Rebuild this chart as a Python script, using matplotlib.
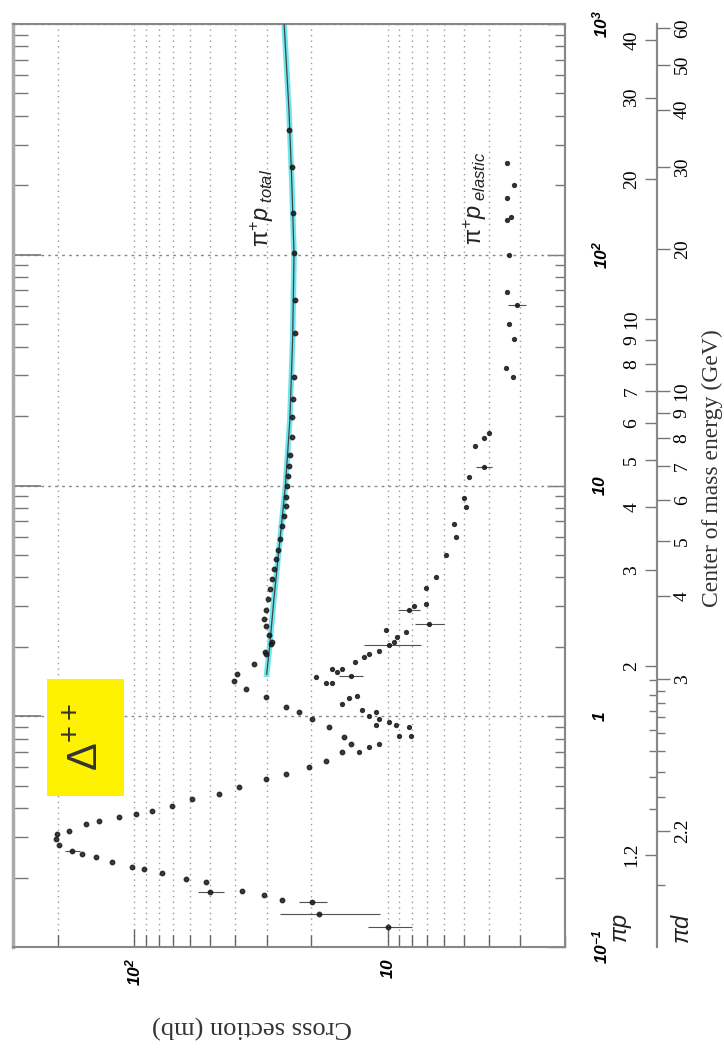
import numpy as np
import matplotlib.pyplot as plt
from matplotlib.ticker import FixedLocator, NullFormatter
from matplotlib.patches import Rectangle

plt.rcParams['mathtext.fontset'] = 'custom'
plt.rcParams['mathtext.rm'] = 'Liberation Sans'
plt.rcParams['mathtext.it'] = 'Liberation Sans:italic'
plt.rcParams['mathtext.bf'] = 'Liberation Sans:italic:bold'
plt.rcParams['mathtext.sf'] = 'Liberation Sans'

# pi+ p total cross section: lab momentum (GeV/c), sigma (mb), sigma error (mb)
tot_p = [0.122, 0.139, 0.157, 0.160, 0.168, 0.173, 0.175, 0.191, 0.197, 0.209,
         0.218, 0.222, 0.233, 0.245, 0.253, 0.261, 0.277, 0.294, 0.308, 0.318,
         0.340, 0.351, 0.365, 0.377, 0.388, 0.407, 0.437, 0.459, 0.493, 0.533,
         0.561, 0.601, 0.638, 0.698, 0.757, 0.811, 0.895, 0.970, 1.04, 1.10,
         1.21, 1.31, 1.42, 1.53, 1.69, 1.87, 1.89, 2.05, 2.09, 2.26,
         2.45, 2.63, 2.90, 3.21, 3.55, 3.92, 4.33, 4.78, 5.28, 5.84,
         6.65, 7.34, 8.11, 8.96, 10.0, 11.0, 12.1, 13.6, 16.3, 19.9,
         23.6, 29.6, 45.9, 63.8, 102, 152, 240, 348]
tot_sig = [10.0, 18.7, 19.9, 26.1, 30.8, 50.2, 37.6, 52.1, 62.4, 77.6,
           91.3, 102, 122, 141, 160, 175, 197, 203, 201, 180,
           155, 137, 115, 98, 85, 70.8, 59.1, 46.3, 38.6, 30.2,
           25.2, 20.5, 17.5, 15.2, 14.0, 14.9, 17.1, 19.9, 22.4, 25.2,
           30.2, 36.2, 40.4, 39.3, 33.7, 30.2, 30.5, 28.9, 28.6, 29.4,
           30.2, 30.8, 30.2, 29.7, 29.2, 28.6, 28.1, 27.6, 27.1, 26.6,
           26.1, 25.6, 25.2, 25.2, 25.0, 24.8, 24.5, 24.3, 23.9, 23.9,
           23.7, 23.4, 23.2, 23.2, 23.4, 23.7, 23.9, 24.5]
tot_err = [2.0, 8.0, 2.5, 0, 0, 6.0, 0, 0, 0, 0,
           0, 0, 0, 0, 0, 12, 0, 0, 0, 0,
           0, 0, 0, 0, 0, 0, 0, 0, 0, 0,
           0, 0, 0, 0, 0, 0, 0, 0, 0, 0,
           0, 0, 0, 0, 0, 0, 0, 0, 0, 0,
           0, 0, 0, 0, 0, 0, 0, 0, 0, 0,
           0, 0, 0, 0, 0, 0, 0, 0, 0, 0,
           0, 0, 0, 0, 0, 0, 0, 0]

# pi+ p elastic cross section
el_p = [0.698, 0.734, 0.757, 0.819, 0.819, 0.896, 0.914, 0.914, 0.94, 0.97,
        1.00, 1.04, 1.06, 1.13, 1.20, 1.22, 1.39, 1.40, 1.48, 1.50,
        1.55, 1.60, 1.60, 1.71, 1.80, 1.87, 1.91, 2.03, 2.09, 2.20,
        2.31, 2.36, 2.50, 2.90, 2.99, 3.05, 3.61, 4.00, 5.02, 6.01,
        6.84, 8.03, 8.87, 10.9, 12.0, 14.8, 16.1, 16.9, 29.4, 32.4,
        43.3, 50.2, 60.8, 69.2, 100, 142, 146, 177, 201, 250]
el_sig = [13.0, 11.9, 10.8, 9.05, 8.12, 8.27, 11.1, 9.30, 9.91, 10.8,
          11.9, 11.1, 12.6, 15.2, 14.2, 13.2, 17.5, 16.6, 19.2, 14.0,
          15.9, 16.6, 15.2, 13.4, 12.4, 11.9, 10.8, 9.91, 9.47, 9.22,
          8.49, 10.2, 6.90, 8.27, 7.90, 7.08, 7.08, 6.47, 5.91, 5.40,
          5.50, 4.93, 5.02, 4.80, 4.19, 4.51, 4.19, 4.00, 3.22, 3.43,
          3.19, 3.31, 3.10, 3.40, 3.34, 3.40, 3.28, 3.40, 3.19, 3.40]
el_err = [0, 0, 0, 0, 0, 0, 0, 0, 0, 0,
          0, 0, 0, 0, 0, 0, 0, 0, 0, 1.5,
          0, 0, 0, 0, 0, 0, 0, 2.5, 0, 0,
          0, 0, 0.9, 0.8, 0, 0, 0, 0, 0, 0,
          0, 0, 0, 0, 0.3, 0, 0, 0, 0, 0,
          0, 0, 0.25, 0, 0, 0, 0, 0, 0, 0]

# fit to total cross section
fit_p = [1.52, 2.0, 3.21, 7.13, 10, 19.3, 42.9, 100, 211, 424, 1000]
fit_sig = [30.0, 29.2, 28.1, 26.1, 25.3, 24.3, 23.7, 23.4, 23.9, 24.5, 25.6]

# axis ticks
p_major = [0.1, 1, 10, 100, 1000]
p_labels = [r'$\mathbf{10^{-1}}$', r'$\mathbf{1}$', r'$\mathbf{10}$',
            r'$\mathbf{10^{2}}$', r'$\mathbf{10^{3}}$']
sig_major = [10, 100]
sig_labels = [r'$\mathbf{10}$', r'$\mathbf{10^{2}}$']
sig_minor = [2, 3, 4, 5, 6, 7, 8, 9, 20, 30, 40, 50, 60, 70, 80, 90, 200]

# centre of mass energy scales
w_pip = [1.2, 2, 3, 4, 5, 6, 7, 8, 9, 10, 20, 30, 40]
w_pip_labels = ['1.2', '2', '3', '4', '5', '6', '7', '8', '9', '10', '20', '30', '40']
w_pip_minor = [1.3, 1.4, 1.5, 1.6, 1.7, 1.8, 1.9]
w_pid = [2.2, 3, 4, 5, 6, 7, 8, 9, 10, 20, 30, 40, 50, 60]
w_pid_labels = ['2.2', '3', '4', '5', '6', '7', '8', '9', '10', '20', '30', '40', '50', '60']
w_pid_minor = [2.1, 2.3, 2.4, 2.5, 2.6, 2.7, 2.8, 2.9]

M_PI, M_P, M_D = 0.1396, 0.9383, 1.8756


def sqrt_s(p, m):
    p = np.asarray(p, dtype=float)
    e = np.sqrt(p**2 + M_PI**2)
    return np.sqrt(M_PI**2 + m**2 + 2 * m * e)


def plab(w, m):
    w = np.maximum(np.asarray(w, dtype=float), M_PI + m + 1e-6)
    e = (w**2 - M_PI**2 - m**2) / (2 * m)
    return np.sqrt(np.maximum(e**2 - M_PI**2, 1e-12))


W, H = 724, 1060
fig = plt.figure(figsize=(7.24, 10.6), dpi=100)
ax = fig.add_axes([13 / W, 1 - 947 / H, 552 / W, 923 / H])
ax.set_xscale('log')
ax.set_yscale('log')
ax.set_xlim(300, 2)
ax.set_ylim(0.1, 1000)

# data
ax.plot(fit_sig, fit_p, color='#6ee6ee', lw=4, zorder=2)
ax.plot(fit_sig, fit_p, color='#444444', lw=0.9, zorder=3)
ax.errorbar(tot_sig, tot_p, xerr=tot_err, fmt='o', ms=3.2, color='#1a1a1a',
            ecolor='#333333', elinewidth=0.8, alpha=0.85, zorder=4)
ax.errorbar(el_sig, el_p, xerr=el_err, fmt='o', ms=2.8, color='#1a1a1a',
            ecolor='#333333', elinewidth=0.8, alpha=0.85, zorder=4)

# ticks and grid
ax.set_xticks(sig_major)
ax.set_xticklabels(sig_labels, rotation=90)
ax.xaxis.set_minor_locator(FixedLocator(sig_minor))
ax.xaxis.set_minor_formatter(NullFormatter())
ax.tick_params(axis='x', which='major', direction='in', length=13, width=1,
               color='#666666', labelsize=12.5, pad=8, top=False)
ax.tick_params(axis='x', which='minor', direction='in', length=8.5, width=1,
               color='#666666', top=False)
ax.set_yticks(p_major)
ax.yaxis.set_minor_locator(FixedLocator(
    [k * 10.0**e for e in range(-1, 3) for k in range(2, 10)]))
ax.yaxis.set_minor_formatter(NullFormatter())
ax.tick_params(axis='y', which='major', direction='in', length=20, width=1.2,
               color='#777777', labelleft=False, right=False)
ax.tick_params(axis='y', which='minor', direction='in', length=11, width=1,
               color='#777777', right=False)
ax.grid(True, which='both', axis='x', ls=(0, (1, 3)), color='#999999', lw=1)
ax.grid(True, which='major', axis='y', ls=(0, (2, 3)), color='#888888', lw=1)
for s in ax.spines.values():
    s.set_color('#888888')
    s.set_linewidth(1.5)
ax.spines['left'].set_linewidth(2.5)
ax.spines['left'].set_color('#aaaaaa')

# right side momentum labels
secr = ax.secondary_yaxis('right')
secr.set_yticks(p_major, labels=p_labels)
secr.yaxis.set_minor_locator(FixedLocator(
    [k * 10.0**e for e in range(-1, 3) for k in range(2, 10)]))
secr.yaxis.set_minor_formatter(NullFormatter())
secr.tick_params(axis='y', which='major', direction='in', length=13, width=1,
                 color='#777777', pad=19, labelsize=12.5)
secr.tick_params(axis='y', which='minor', direction='in', length=7, width=1,
                 color='#777777')
secr.spines['right'].set_color('#888888')
secr.spines['right'].set_linewidth(1.5)
for lbl in secr.get_yticklabels():
    lbl.set_rotation(90)
    lbl.set_va('center')

# centre of mass energy scales
loc = (657 - 13) / 552
seca = ax.secondary_yaxis(loc, functions=(lambda p: sqrt_s(p, M_P),
                                          lambda w: plab(w, M_P)))
seca.set_alignment('left')
seca.set_yticks(w_pip, labels=w_pip_labels)
seca.yaxis.set_minor_locator(FixedLocator(w_pip_minor))
seca.yaxis.set_minor_formatter(NullFormatter())
seca.tick_params(axis='y', which='major', direction='out', length=9, width=1,
                 color='#777777', pad=3, labelsize=14)
seca.tick_params(axis='y', which='minor', direction='out', length=6, width=1,
                 color='#777777')
seca.spines['left'].set_color('#888888')
seca.spines['left'].set_linewidth(1.5)
for lbl in seca.get_yticklabels():
    lbl.set_rotation(90)
    lbl.set_va('center')
    lbl.set_family('Liberation Serif')

secb = ax.secondary_yaxis(loc, functions=(lambda p: sqrt_s(p, M_D),
                                          lambda w: plab(w, M_D)))
secb.set_alignment('right')
secb.set_yticks(w_pid, labels=w_pid_labels)
secb.yaxis.set_minor_locator(FixedLocator(w_pid_minor))
secb.yaxis.set_minor_formatter(NullFormatter())
secb.tick_params(axis='y', which='major', direction='out', length=9, width=1,
                 color='#777777', pad=3, labelsize=14)
secb.tick_params(axis='y', which='minor', direction='out', length=6, width=1,
                 color='#777777')
secb.spines['right'].set_color('#888888')
secb.spines['right'].set_linewidth(1.5)
for lbl in secb.get_yticklabels():
    lbl.set_rotation(90)
    lbl.set_va('center')
    lbl.set_family('Liberation Serif')

# texts
fig.text(262 / W, 1 - 208 / H, r'$\mathrm{\pi}^{+}p_{\ total}$', rotation=90,
         ha='center', va='center', fontsize=17, color='#222222')
fig.text(475 / W, 1 - 198 / H, r'$\mathrm{\pi}^{+}p_{\ elastic}$', rotation=90,
         ha='center', va='center', fontsize=17, color='#222222')
fig.text(622 / W, 1 - 928 / H, r'$\pi p$', rotation=90, ha='center', va='center',
         fontsize=17, color='#222222')
fig.text(682 / W, 1 - 928 / H, r'$\pi d$', rotation=90, ha='center', va='center',
         fontsize=17, color='#222222')
fig.text(712 / W, 1 - 468 / H, 'Center of mass energy (GeV)', rotation=90,
         ha='center', va='center', fontsize=17, family='Liberation Serif',
         color='#333333')
fig.text(252 / W, 1 - 1027 / H, 'Cross section (mb)', rotation=180,
         ha='center', va='center', fontsize=19, family='Liberation Serif',
         color='#333333')

box = Rectangle((47 / W, 1 - 796 / H), 77 / W, 117 / H, transform=fig.transFigure,
                facecolor='#fff200', edgecolor='none', zorder=5)
fig.add_artist(box)
fig.text(86 / W, 1 - 737 / H, r'$\mathrm{\Delta}^{++}$', rotation=90,
         ha='center', va='center', fontsize=30, color='#333333', zorder=6)

fig.savefig('out.png', dpi=100)
